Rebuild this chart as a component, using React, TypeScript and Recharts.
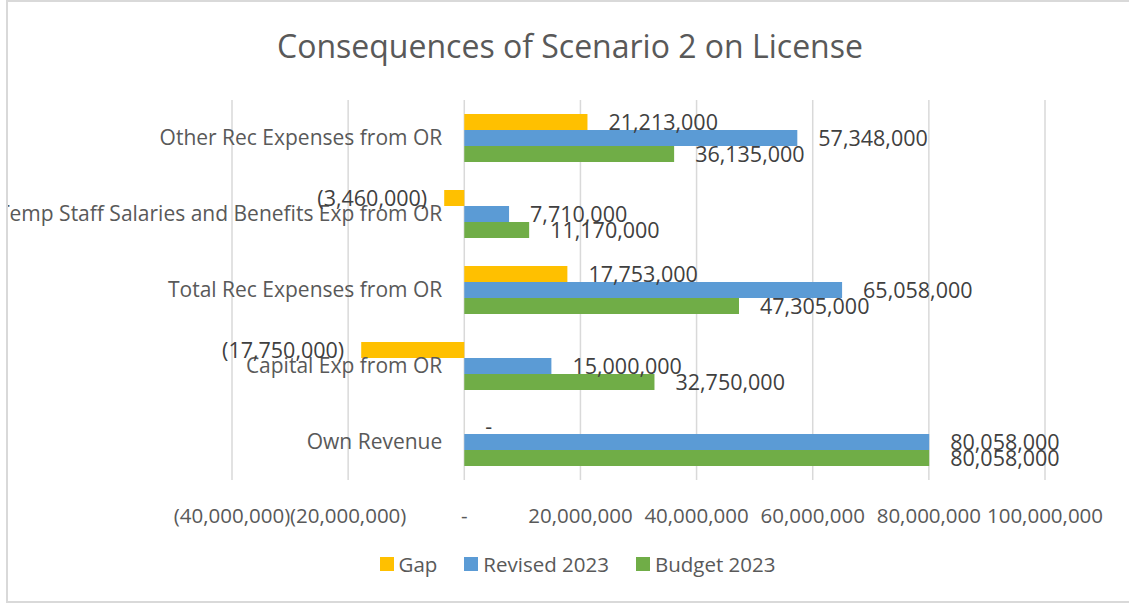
import React from 'react';
import { BarChart, Bar, XAxis, YAxis, CartesianGrid, LabelList, Legend } from 'recharts';

const categories = [
  'Other Rec Expenses from OR',
  'Temp Staff Salaries and Benefits Exp from OR',
  'Total Rec Expenses from OR',
  'Capital Exp from OR',
  'Own Revenue',
];
const gapValues = [21213000, -3460000, 17753000, -17750000, 0];
const revisedValues = [57348000, 7710000, 65058000, 15000000, 80058000];
const budgetValues = [36135000, 11170000, 47305000, 32750000, 80058000];
const xTicks = [-40000000, -20000000, 0, 20000000, 40000000, 60000000, 80000000, 100000000];
const seriesNames = ['Gap', 'Revised 2023', 'Budget 2023'];

const data = categories.map((name, i) => ({
  name,
  gap: gapValues[i],
  revised: revisedValues[i],
  budget: budgetValues[i],
}));

const FONT = '"Open Sans", sans-serif';
const AXIS_COLOR = '#595959';
const LABEL_COLOR = '#404040';
const X_MIN = xTicks[0];
const X_MAX = xTicks[xTicks.length - 1];

const CHART_W = 1129;
const CHART_H = 603;
const Y_AXIS_W = 232;
const MARGIN = { top: 100, right: 84, left: 0, bottom: 63 };
const PLOT_W = CHART_W - Y_AXIS_W - MARGIN.left - MARGIN.right;
const ZERO_SHIFT = (PLOT_W * (0 - X_MIN)) / (X_MAX - X_MIN);
const Y_LABEL_SHIFT = ZERO_SHIFT - 22;

const fmt = (v: number) => {
  if (v === 0) return '-';
  if (v < 0) return `(${Math.abs(v).toLocaleString('en-US')})`;
  return v.toLocaleString('en-US');
};

const YTick = (props: any) => {
  const { x, y, payload } = props;
  return (
    <text
      x={Number(x) + Y_LABEL_SHIFT}
      y={y}
      dy="0.35em"
      textAnchor="end"
      fill={AXIS_COLOR}
      fontSize={21}
      fontFamily={FONT}
    >
      {payload.value}
    </text>
  );
};

const renderValueLabel = (props: any) => {
  const vb = props.viewBox || props;
  const x = Number(vb.x ?? props.x);
  const w = Number(vb.width ?? props.width);
  const y = Number(vb.y ?? props.y);
  const h = Number(vb.height ?? props.height);
  const value = Number(props.value);
  const left = Math.min(x, x + w);
  const right = Math.max(x, x + w);
  const neg = value < 0;
  return (
    <text
      x={neg ? left - 17 : right + 21}
      y={y + h / 2}
      dy="0.35em"
      textAnchor={neg ? 'end' : 'start'}
      fill={LABEL_COLOR}
      fontSize={21.5}
      fontFamily={FONT}
    >
      {fmt(value)}
    </text>
  );
};

const renderLegend = (props: any) => {
  const payload = [...(props.payload || [])].sort(
    (a: any, b: any) => seriesNames.indexOf(a.value) - seriesNames.indexOf(b.value)
  );
  return (
    <div
      style={{
        display: 'flex',
        justifyContent: 'center',
        gap: 27,
        fontFamily: FONT,
        fontSize: 20.5,
        lineHeight: '20px',
        color: AXIS_COLOR,
      }}
    >
      {payload.map((p: any) => (
        <div key={p.value} style={{ display: 'flex', alignItems: 'center' }}>
          <span style={{ display: 'inline-block', width: 14, height: 14, background: p.color, marginRight: 5 }} />
          <span>{p.value}</span>
        </div>
      ))}
    </div>
  );
};

export default function App() {
  return (
    <div
      style={{
        position: 'absolute',
        left: 6,
        top: 0,
        width: 1140,
        height: CHART_H,
        border: '2px solid #d9d9d9',
        boxSizing: 'border-box',
        overflow: 'hidden',
        background: '#fff',
      }}
    >
      <div style={{ position: 'absolute', left: -8, top: -2, width: CHART_W, height: CHART_H }}>
        <div
          style={{
            position: 'absolute',
            left: 0,
            top: 30,
            width: 1140,
            textAlign: 'center',
            fontFamily: FONT,
            fontSize: 32,
            lineHeight: '32px',
            color: AXIS_COLOR,
            whiteSpace: 'nowrap',
          }}
        >
          Consequences of Scenario 2 on License
        </div>
        <BarChart
          width={CHART_W}
          height={CHART_H}
          data={data}
          layout="vertical"
          margin={MARGIN}
          barGap={0}
          style={{ fontFamily: FONT }}
        >
          <CartesianGrid horizontal={false} vertical={true} stroke="#d9d9d9" strokeWidth={1.5} />
          <XAxis
            type="number"
            domain={[X_MIN, X_MAX]}
            ticks={xTicks}
            interval={0}
            allowDataOverflow
            tickFormatter={fmt}
            tickLine={false}
            axisLine={false}
            tickSize={0}
            tickMargin={28}
            height={60}
            tick={{ fill: AXIS_COLOR, fontSize: 20.5, fontFamily: FONT }}
          />
          <YAxis
            type="category"
            dataKey="name"
            width={Y_AXIS_W}
            interval={0}
            tickLine={false}
            axisLine={false}
            tickSize={0}
            tickMargin={0}
            tick={<YTick />}
          />
          <Legend
            layout="horizontal"
            verticalAlign="middle"
            align="center"
            wrapperStyle={{ top: 554, left: 0, width: 1155, margin: 0 }}
            content={renderLegend}
          />
          <Bar dataKey="gap" name={seriesNames[0]} fill="#FFC000" barSize={16} minPointSize={0.01} isAnimationActive={false}>
            <LabelList dataKey="gap" content={renderValueLabel} />
          </Bar>
          <Bar dataKey="revised" name={seriesNames[1]} fill="#5B9BD5" barSize={16} isAnimationActive={false}>
            <LabelList dataKey="revised" content={renderValueLabel} />
          </Bar>
          <Bar dataKey="budget" name={seriesNames[2]} fill="#70AD47" barSize={16} isAnimationActive={false}>
            <LabelList dataKey="budget" content={renderValueLabel} />
          </Bar>
        </BarChart>
      </div>
    </div>
  );
}
